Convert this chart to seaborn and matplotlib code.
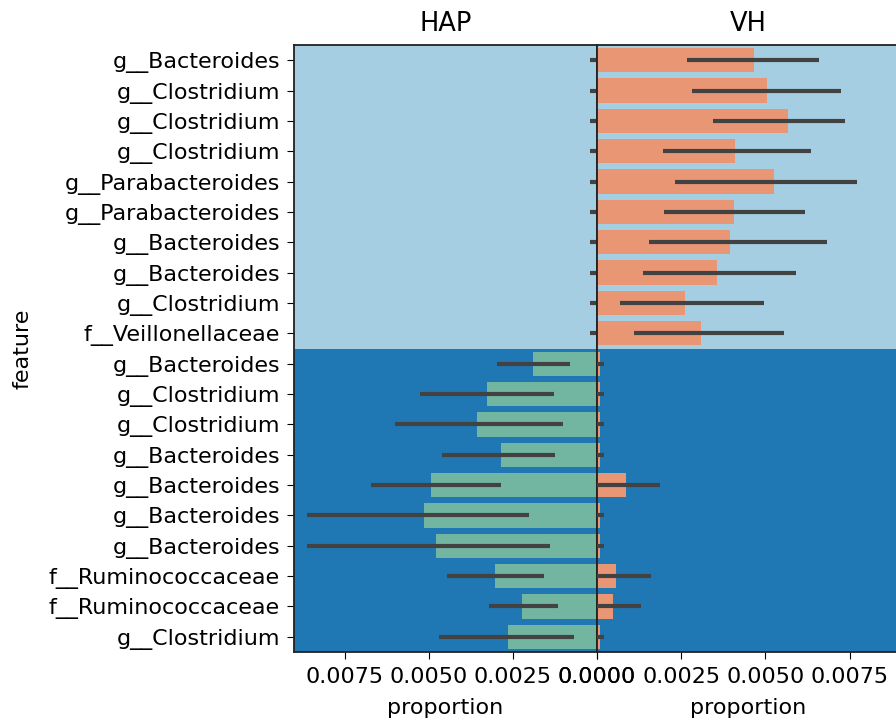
import numpy as np
import pandas as pd
import matplotlib
matplotlib.use("Agg")
import matplotlib.pyplot as plt
import seaborn as sns

features = [
    "g__Bacteroides", "g__Clostridium", "g__Clostridium", "g__Clostridium",
    "g__Parabacteroides", "g__Parabacteroides", "g__Bacteroides", "g__Bacteroides",
    "g__Clostridium", "f__Veillonellaceae",
    "g__Bacteroides", "g__Clostridium", "g__Clostridium", "g__Bacteroides",
    "g__Bacteroides", "g__Bacteroides", "g__Bacteroides", "f__Ruminococcaceae",
    "f__Ruminococcaceae", "g__Clostridium",
]

hap_mean = [0.00003] * 10 + [0.0019, 0.00328, 0.00356, 0.00286, 0.00493,
                             0.00515, 0.00478, 0.00303, 0.00224, 0.00263]
hap_lo = [0.0] * 10 + [0.00079, 0.00128, 0.00102, 0.00126, 0.00284,
                       0.00203, 0.00141, 0.00156, 0.00117, 0.00068]
hap_hi = [0.0002] * 10 + [0.00298, 0.00525, 0.00599, 0.0046, 0.0067,
                          0.00862, 0.00861, 0.00447, 0.0032, 0.0047]

vh_mean = [0.00467, 0.00505, 0.00566, 0.00411, 0.00525, 0.00408, 0.00395,
           0.00356, 0.00262, 0.00310,
           0.0001, 0.0001, 0.0001, 0.0001, 0.00087, 0.0001, 0.0001,
           0.00057, 0.00047, 0.0001]
vh_lo = [0.00267, 0.00282, 0.00344, 0.00195, 0.00233, 0.00199, 0.00153,
         0.00137, 0.00067, 0.00109,
         0.0, 0.0, 0.0, 0.0, 0.0, 0.0, 0.0, 0.0, 0.0, 0.0]
vh_hi = [0.0066, 0.00725, 0.00736, 0.00637, 0.00772, 0.00617, 0.00683,
         0.00592, 0.00495, 0.00556,
         0.00022, 0.00022, 0.00022, 0.00022, 0.00186, 0.00022, 0.00022,
         0.00159, 0.0013, 0.00022]

groups = ["HAP", "VH"]
n_top = 10

ids = [f"r{i}" for i in range(len(features))]
df = pd.DataFrame({"feature_id": ids, "feature": features,
                   "HAP": hap_mean, "VH": vh_mean})

sns.set_style("ticks")
plt.rcParams["font.family"] = ["DejaVu Sans"]
plt.rcParams["text.color"] = "black"
plt.rcParams["axes.labelcolor"] = "black"
plt.rcParams["xtick.color"] = "black"
plt.rcParams["ytick.color"] = "black"

W, H = 896, 721
fig = plt.figure(figsize=(W / 100, H / 100), dpi=100)
left_px, mid_px, right_px = 294, 597, 900
top_px, bot_px = 45, 652
ax1 = fig.add_axes([left_px / W, 1 - bot_px / H, (mid_px - left_px) / W, (bot_px - top_px) / H])
ax2 = fig.add_axes([mid_px / W, 1 - bot_px / H, (right_px - mid_px) / W, (bot_px - top_px) / H],
                   sharey=ax1)

set2 = sns.color_palette("Set2")
pos = np.arange(len(features))
for ax, g, col, lo, hi in [(ax1, "HAP", set2[0], hap_lo, hap_hi),
                           (ax2, "VH", set2[1], vh_lo, vh_hi)]:
    ax.axhspan(-0.5, n_top - 0.5, color="#a6cee3", zorder=0, lw=0)
    ax.axhspan(n_top - 0.5, len(features) - 0.5, color="#1f78b4", zorder=0, lw=0)
    sns.barplot(data=df, x=g, y="feature_id", order=ids, orient="h", color=col,
                errorbar=None, ax=ax, width=0.8, zorder=2, linewidth=0,
                edgecolor="none")
    ax.hlines(pos, lo, hi, color=".26", lw=3, zorder=3)
    ax.set_title(g, fontsize=18.5, pad=10)
    ax.set_xlabel("proportion", fontsize=16, labelpad=8)
    ax.set_xticks([0, 0.0025, 0.005, 0.0075])
    ax.set_xticklabels(["0.0000", "0.0025", "0.0050", "0.0075"])
    ax.tick_params(axis="both", labelsize=16, length=5, pad=5)
    ax.tick_params(axis="x", pad=6)
    ax.set_ylim(len(features) - 0.5, -0.5)
    for s in ax.spines.values():
        s.set_visible(True)
        s.set_color("#222222")
        s.set_linewidth(1.3)

ax1.set_xlim(0.0090, 0)
ax2.set_xlim(0, 0.0090)
ax1.set_yticks(pos)
ax1.set_yticklabels(features)
ax1.set_ylabel("feature", fontsize=16, labelpad=12)
ax2.set_ylabel("")
ax2.tick_params(axis="y", left=False, labelleft=False)

fig.savefig("out.png", dpi=100)
